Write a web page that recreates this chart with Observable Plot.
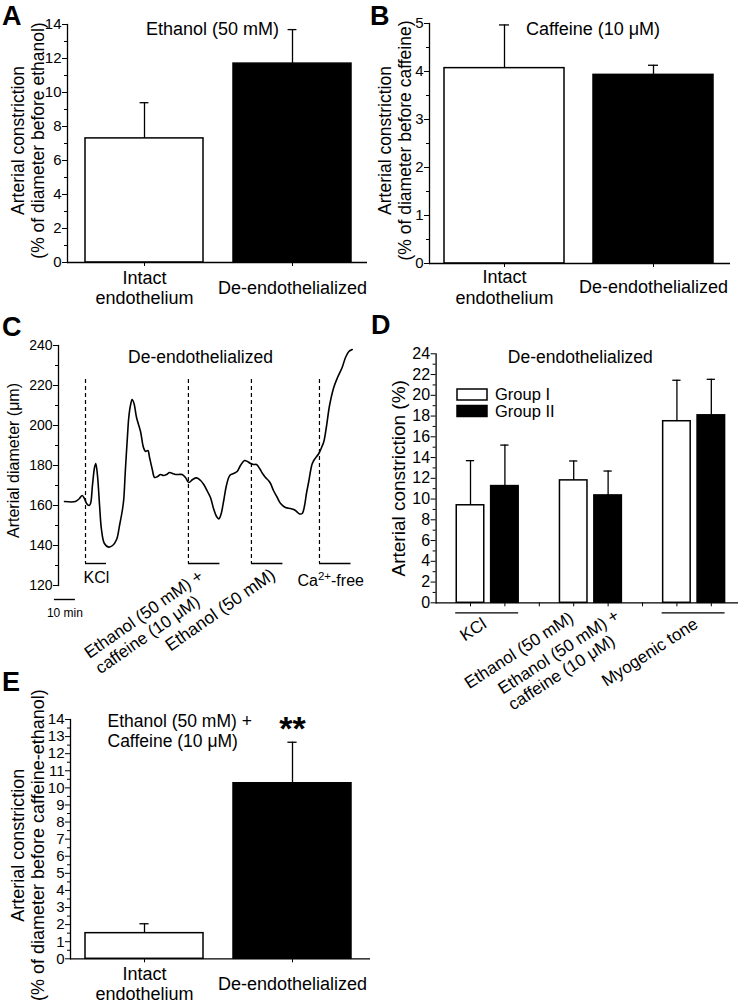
<!DOCTYPE html>
<html><head><meta charset="utf-8">
<script src="https://cdn.jsdelivr.net/npm/d3@7"></script>
<script src="https://cdn.jsdelivr.net/npm/@observablehq/plot@0.6"></script>
<style>
body{margin:0;background:#fff;}
#fig{position:relative;width:741px;height:1004px;overflow:hidden;background:#fff;}
</style></head><body><div id="fig"></div>
<script>
// ---------------- DATA ----------------
const abeCategories = ["Intact\nendothelium", "De-endothelialized"];
const barFills = ["white", "black"];

// Panel A: Ethanol (50 mM)
const ethanolMean = [7.3, 11.7];
const ethanolSem = [2.1, 2.0];
const aTicks = [0, 2, 4, 6, 8, 10, 12, 14];
const aMinor = [1, 3, 5, 7, 9, 11, 13];

// Panel B: Caffeine (10 μM)
const caffeineMean = [4.07, 3.93];
const caffeineSem = [0.9, 0.2];
const bTicks = [0, 1, 2, 3, 4, 5];
const bMinor = [0.5, 1.5, 2.5, 3.5, 4.5];

// Panel E: Ethanol + Caffeine
const comboMean = [1.5, 10.27];
const comboSem = [0.55, 2.4];
const eTicks = [0, 1, 2, 3, 4, 5, 6, 7, 8, 9, 10, 11, 12, 13, 14];
const eMinor = [0.5, 1.5, 2.5, 3.5, 4.5, 5.5, 6.5, 7.5, 8.5, 9.5, 10.5, 11.5, 12.5, 13.5];

// Panel C: diameter trace (minutes, µm)
const traceMinutes = [0,5.2,7.1,8.4,9.5,10.5,11.7,12.4,13.3,14.3,
  14.9,15.7,16.7,17.6,19.0,21.0,22.9,24.8,26.2,27.6,
  28.2,29.0,30.0,30.6,31.4,32.2,33.1,34.3,36.2,37.6,
  38.6,39.7,40.5,41.8,42.9,44.3,45.7,47.1,48.6,50.0,
  51.4,52.9,54.3,56.0,57.6,59.2,61.0,62.9,64.8,66.3,
  68.1,69.5,71.1,72.4,73.5,74.5,75.9,77.1,78.7,80.5,
  82.2,83.8,85.7,87.1,88.6,90.0,91.4,92.9,94.3,95.7,
  97.1,98.1,99.5,101.3,102.9,105.2,107.6,109.2,110.5,111.9,
  113.2,114.3,115.2,116.3,117.1,117.9,119.0,121.1,122.4,123.5,
  124.8,126.2,128.2,130.0,132.2,133.8,135.4,137.0];
const traceDiameter = [162,162,163.5,165,163.5,161,160,161,170,179,
  181,175,160,148,141,139.2,140,143,150,158,
  163,178,195,204,210,213,211,204,197,189,
  187,187.5,184,178,174,174.5,175.5,175,175.5,176.5,
  176,175.5,175.5,175.5,174,171.5,173,173.8,172.5,170.5,
  167,164,158,154.5,153.3,155.5,163,170,175,176,
  177,180,182.5,182,181,180.5,180.5,178.5,176,174,
  172.5,171,167.5,164,161,159,158.5,158,157,155.8,
  156,160,166,172,177,180.8,183,186,189,192,
  200,210,219,224,229,234,237,238];
const eventLabels = ["KCl", "Ethanol (50 mM) +\ncaffeine (10 μM)", "Ethanol (50 mM)", "Ca2+-free"];
const eventStart = [10, 59, 89, 121.4];
const eventDuration = [10, 15, 15, 15];
const cTicks = [120, 140, 160, 180, 200, 220, 240];
const cMinor = [130, 150, 170, 190, 210, 230];
const scaleBarMinutes = 10;

// Panel D
const dGroups = ["Group I", "Group II"];
const dBarCondition = ["KCl", "KCl", "Ethanol (50 mM)", "Ethanol (50 mM) +\ncaffeine (10 μM)", "Myogenic tone", "Myogenic tone"];
const dBarGroup = ["Group I", "Group II", "Group I", "Group II", "Group I", "Group II"];
const dBarCluster = [0, 0, 1, 1, 2, 2];
const dMean = [9.4, 11.25, 11.8, 10.35, 17.5, 18.07];
const dSem = [4.3, 3.95, 1.87, 2.35, 3.95, 3.47];
const dTicks = [0, 2, 4, 6, 8, 10, 12, 14, 16, 18, 20, 22, 24];
const dMinor = [1, 3, 5, 7, 9, 11, 13, 15, 17, 19, 21, 23];

// ---------------- HELPERS ----------------
const FONT = "'Liberation Sans', Arial, Helvetica, sans-serif";
const fig = document.getElementById("fig");
function place(node, left, top) {
  node.style.position = "absolute";
  node.style.left = left + "px";
  node.style.top = top + "px";
  fig.appendChild(node);
}
function baseStyle(fs) {
  return {fontFamily: FONT, fontSize: fs + "px", color: "black", background: "transparent", overflow: "visible"};
}
const fmt = d => String(d);

function barPanel(o) {
  const data = abeCategories.map((c, i) => ({cat: c, mean: o.mean[i], top: o.mean[i] + o.err[i], fill: barFills[i]}));
  const W = o.width - o.ml - o.mr;
  const step = W / (abeCategories.length - o.pi + 2 * o.po);
  const bw = step * (1 - o.pi);
  const capInset = (bw - 10) / 2;
  return Plot.plot({
    width: o.width, height: o.height,
    marginLeft: o.ml, marginRight: o.mr, marginTop: o.mt, marginBottom: o.mb,
    style: baseStyle(15),
    x: {type: "band", domain: abeCategories, paddingInner: o.pi, paddingOuter: o.po, align: o.align},
    y: {domain: [0, o.ymax]},
    color: {type: "identity"},
    marks: [
      Plot.ruleX(data, {x: "cat", y1: "mean", y2: "top", strokeWidth: 1.3}),
      Plot.tickY(data, {x: "cat", y: "top", insetLeft: capInset, insetRight: capInset, strokeWidth: 1.3}),
      Plot.barY(data, {x: "cat", y: "mean", fill: "fill", stroke: "black", strokeWidth: 1.5}),
      Plot.axisY({ticks: o.minor, tickSize: 3, tickFormat: () => "", label: null}),
      Plot.axisY({ticks: o.major, tickSize: 5, tickPadding: 1, fontSize: o.tickFont, tickFormat: fmt, label: null}),
      Plot.axisX({tickSize: 4, tickFormat: () => "", label: null}),
      Plot.text(data, {x: "cat", text: "cat", frameAnchor: "bottom", dy: o.catDy, lineAnchor: "middle", fontSize: 18, lineHeight: 1.12}),
      Plot.ruleY([0], {strokeWidth: 1.3}),
      Plot.frame({anchor: "left", strokeWidth: 1.3}),
      Plot.text([o.ylabel], {frameAnchor: "left", rotate: -90, dx: o.ylDx, dy: o.ylDy || 0, textAnchor: "middle", lineAnchor: "middle", fontSize: o.ylFont || 18, lineHeight: 1.12}),
      ...o.extra
    ]
  });
}

// ---------------- PANEL A ----------------
const plotA = barPanel({
  mean: ethanolMean, err: ethanolSem, ymax: 14, major: aTicks, minor: aMinor, tickFont: 15,
  width: 370, height: 310, ml: 67, mr: 3, mt: 24, mb: 48,
  pi: 0.2, po: 0.107, align: 0.55, catDy: 25, ylDx: -40, ylDy: -3, ylFont: 17.5,
  ylabel: "Arterial constriction\n(% of diameter before ethanol)",
  extra: [Plot.text(["Ethanol (50 mM)"], {frameAnchor: "top", dx: -5, dy: -2, lineAnchor: "top", fontSize: 18})]
});
place(plotA, 0, 0);

// ---------------- PANEL B ----------------
const plotB = barPanel({
  mean: caffeineMean, err: caffeineSem, ymax: 5, major: bTicks, minor: bMinor, tickFont: 15,
  width: 371, height: 310, ml: 59, mr: 11, mt: 23, mb: 47,
  pi: 0.195, po: 0.1075, align: 0.467, catDy: 23.5, ylDx: -35, ylDy: -3, ylFont: 17.5,
  ylabel: "Arterial constriction\n(% of diameter before caffeine)",
  extra: [Plot.text(["Caffeine (10 μM)"], {frameAnchor: "top", dx: 13, dy: -1, lineAnchor: "top", fontSize: 18})]
});
place(plotB, 370, 0);

// ---------------- PANEL C ----------------
const trace = traceMinutes.map((t, i) => ({t, d: traceDiameter[i]}));
const events = eventLabels.map((label, i) => ({label, start: eventStart[i], end: eventStart[i] + eventDuration[i]}));
const cYmin = cTicks[0];
const plotC = Plot.plot({
  width: 370, height: 350, marginLeft: 58, marginRight: 0, marginTop: 15, marginBottom: 95,
  style: baseStyle(14),
  x: {domain: [-2.86, 145.7], axis: null},
  y: {domain: [cTicks[0], cTicks[cTicks.length - 1]]},
  marks: [
    Plot.ruleX(events, {x: "start", insetTop: 34, insetBottom: 22, strokeDasharray: "4,3", strokeWidth: 1.2}),
    Plot.ruleY(events, {x1: "start", x2: "end", y: () => cYmin, dy: -22, strokeWidth: 1.4}),
    Plot.line(trace, {x: "t", y: "d", curve: "catmull-rom", strokeWidth: 1.6}),
    Plot.axisY({ticks: cMinor, tickSize: 3, tickFormat: () => "", label: null}),
    Plot.axisY({ticks: cTicks, tickSize: 5, tickPadding: 1, fontSize: 14, tickFormat: fmt, label: null}),
    Plot.frame({anchor: "left", strokeWidth: 1.3}),
    Plot.text(["De-endothelialized"], {frameAnchor: "top", dx: -14, dy: 5, lineAnchor: "top", fontSize: 17.5}),
    Plot.text(["Arterial diameter (μm)"], {frameAnchor: "left", rotate: -90, dx: -45, dy: -5, textAnchor: "middle", lineAnchor: "middle", fontSize: 16}),
    // event labels
    Plot.text(events.filter((d, i) => i === 0), {x: "start", y: () => cYmin, text: "label", textAnchor: "start", lineAnchor: "bottom", dx: -2, dy: -3, fontSize: 16}),
    Plot.text(events.filter((d, i) => i === 3), {x: "start", y: () => cYmin, text: "label", textAnchor: "start", lineAnchor: "bottom", dx: -22, dy: 0, fontSize: 16}),
    Plot.text(events.filter((d, i) => i === 1), {x: "start", y: () => cYmin, text: "label", textAnchor: "start", lineAnchor: "bottom", rotate: -35, dx: -88, dy: 89, fontSize: 17, lineHeight: 1.12}),
    Plot.text(events.filter((d, i) => i === 2), {x: "start", y: () => cYmin, text: "label", textAnchor: "end", lineAnchor: "bottom", rotate: -35, dx: 25, dy: -8, fontSize: 17.5}),
    // scale bar
    Plot.ruleY([scaleBarMinutes], {x1: () => -4.8, x2: d => -4.8 + d, y: () => cYmin, dy: 14, strokeWidth: 1.4}),
    Plot.text([scaleBarMinutes], {x: d => -4.8 + d / 2, y: () => cYmin, text: d => d + " min", dy: 28, fontSize: 12})
  ]
});
d3.select(plotC).selectAll("text").filter(function() { return this.textContent === "Ca2+-free"; }).each(function() {
  const t = d3.select(this);
  t.text(null);
  t.append("tspan").text("Ca");
  t.append("tspan").attr("dy", -6).attr("font-size", 11.5).text("2+");
  t.append("tspan").attr("dy", 6).text("-free");
});
place(plotC, 0, 330);

// ---------------- PANEL D ----------------
const dBars = dMean.map((m, i) => {
  const g = dGroups.indexOf(dBarGroup[i]);
  return {cond: dBarCondition[i], slot: dBarCluster[i] * 3 + g + 1, mean: m, top: m + dSem[i], fill: g === 0 ? "white" : "black"};
});
const dLabels = [...new Set(dBarCondition)].map(c => {
  const s = dBars.filter(b => b.cond === c).map(b => b.slot);
  return {label: c, x: d3.mean(s), lo: d3.min(s), hi: d3.max(s), n: s.length};
});
const dLabelOpts = [
  {textAnchor: "end", dx: 0, dy: 24},
  {textAnchor: "end", dx: 1, dy: 18},
  {textAnchor: "start", dx: -95, dy: 108},
  {textAnchor: "end", dx: 5, dy: 24}
];
const plotD = Plot.plot({
  width: 371, height: 420, marginLeft: 65.6, marginRight: 3, marginTop: 23.3, marginBottom: 147.7,
  style: baseStyle(15),
  x: {domain: [0, 8.79]},
  y: {domain: [0, 24]},
  color: {type: "identity"},
  marks: [
    Plot.ruleX(dBars, {x: "slot", y1: "mean", y2: "top", strokeWidth: 1.3}),
    Plot.ruleY(dBars, {y: "top", x1: d => d.slot - 0.12, x2: d => d.slot + 0.12, strokeWidth: 1.3}),
    Plot.rectY(dBars, {x1: d => d.slot - 0.4, x2: d => d.slot + 0.4, y: "mean", fill: "fill", stroke: "black", strokeWidth: 1.5}),
    Plot.axisY({ticks: dMinor, tickSize: 3, tickFormat: () => "", label: null}),
    Plot.axisY({ticks: dTicks, tickSize: 5, tickPadding: 1, fontSize: 16, tickFormat: fmt, label: null}),
    Plot.axisX({ticks: d3.range(1, 9), tickSize: 4, tickFormat: () => "", label: null}),
    Plot.ruleY([0], {strokeWidth: 1.3}),
    Plot.frame({anchor: "left", strokeWidth: 1.3}),
    Plot.ruleY(dLabels.filter(d => d.n > 1), {y: () => 0, x1: d => d.lo - 0.43, x2: d => d.hi + 0.4, dy: 10, strokeWidth: 1.2}),
    ...dLabels.map((lab, i) => Plot.text([lab], {x: "x", frameAnchor: "bottom", text: "label", rotate: -33, lineAnchor: "bottom", fontSize: 17, lineHeight: 1.12, ...dLabelOpts[i]})),
    Plot.text(["De-endothelialized"], {frameAnchor: "top", dx: -7, dy: -3, lineAnchor: "top", fontSize: 17.5}),
    Plot.text(["Arterial constriction (%)"], {frameAnchor: "left", rotate: -90, dx: -37, textAnchor: "middle", lineAnchor: "middle", fontSize: 19})
  ]
});
place(plotD, 370, 330);

// ---------------- PANEL E ----------------
const plotE = barPanel({
  mean: comboMean, err: comboSem, ymax: 14, major: eTicks, minor: eMinor, tickFont: 15,
  width: 370, height: 324, ml: 70, mr: 0, mt: 39, mb: 45.7,
  pi: 0.2, po: 0.11, align: 0.447, catDy: 24.5, ylDx: -43, ylDy: 6,
  ylabel: "Arterial constriction\n(% of diameter before caffeine-ethanol)",
  extra: [
    Plot.text(["Ethanol (50 mM) +\nCaffeine (10 μM)"], {frameAnchor: "top-left", textAnchor: "start", lineAnchor: "top", dx: 37, dy: -7, fontSize: 17.5, lineHeight: 1.15}),
    Plot.text(["**"], {x: () => abeCategories[1], frameAnchor: "top", lineAnchor: "bottom", dy: 20, fontSize: 34, fontWeight: "bold"})
  ]
});
place(plotE, 0, 680);

// ---------------- OVERLAY: panel letters + legend ----------------
const ov = d3.create("svg").attr("width", 741).attr("height", 1004)
  .style("position", "absolute").style("left", "0px").style("top", "0px").style("pointer-events", "none")
  .attr("font-family", FONT);
const letters = [["A", 2, 24.5], ["B", 370, 24.5], ["C", 2, 336], ["D", 371, 334], ["E", 2, 691]];
ov.selectAll("text.letter").data(letters).join("text").attr("class", "letter")
  .attr("x", d => d[1]).attr("y", d => d[2]).attr("font-size", 27).attr("font-weight", "bold").text(d => d[0]);
const leg = ov.append("g");
dGroups.forEach((g, i) => {
  leg.append("rect").attr("x", 457).attr("y", 389 + i * 16.5).attr("width", 30).attr("height", 11)
    .attr("fill", barFills[i]).attr("stroke", "black").attr("stroke-width", 1.5);
  leg.append("text").attr("x", 495).attr("y", 400 + i * 16.5).attr("font-size", 16.5).text(g);
});
fig.appendChild(ov.node());
</script></body></html>
